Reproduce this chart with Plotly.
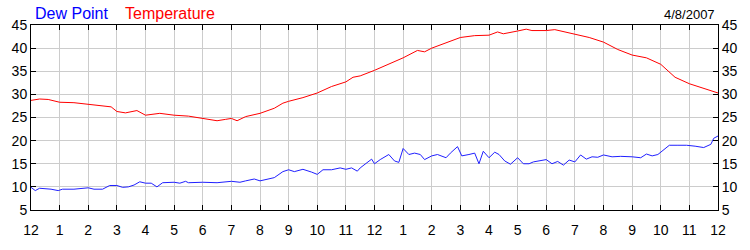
import plotly.graph_objects as go

# Time in hours after midnight
temp_hours = [0, 0.3, 0.6, 1, 1.5, 2, 2.5, 2.8, 3, 3.3, 3.7, 4, 4.5, 5, 5.5, 6, 6.5, 6.8, 7, 7.2, 7.5,
              8, 8.5, 8.8, 9, 9.5, 10, 10.5, 11, 11.25, 11.5, 12, 12.5, 13, 13.5, 13.75, 14, 14.5, 15, 15.5,
              16, 16.3, 16.5, 17, 17.3, 17.5, 18, 18.3, 18.5, 19, 19.5, 20, 20.5, 21, 21.5, 22, 22.5, 23, 23.5, 24]
temperature = [28.7, 29.0, 28.9, 28.3, 28.2, 27.9, 27.5, 27.3, 26.3, 26.0, 26.5, 25.5, 25.9, 25.5, 25.3, 24.8, 24.3, 24.6, 24.8, 24.3, 25.2,
               25.9, 27.0, 28.1, 28.5, 29.3, 30.3, 31.7, 32.7, 33.7, 34.0, 35.2, 36.5, 37.9, 39.5, 39.2, 40.0, 41.2, 42.3, 42.7,
               42.8, 43.5, 43.1, 43.7, 44.1, 43.8, 43.8, 44.0, 43.7, 43.0, 42.3, 41.3, 39.7, 38.5, 37.9, 36.5, 33.7, 32.3, 31.3, 30.3]

dew_hours = [0, 0.15, 0.3, 0.7, 0.95, 1.1, 1.5, 2, 2.2, 2.5, 2.75, 3, 3.2, 3.4, 3.6, 3.8, 4, 4.2, 4.4, 4.6, 5, 5.2, 5.4, 5.5,
             6, 6.5, 7, 7.3, 7.5, 7.8, 8, 8.5, 8.8, 9, 9.2, 9.5, 9.8, 10, 10.2, 10.5, 10.8, 11, 11.2, 11.4, 11.5, 11.7, 11.9,
             12, 12.2, 12.5, 12.7, 12.85, 13, 13.2, 13.4, 13.6, 13.75, 14, 14.2, 14.5, 14.65, 14.9, 15.05, 15.3, 15.5, 15.65,
             15.8, 16, 16.2, 16.35, 16.55, 16.75, 17, 17.2, 17.4, 17.55, 17.8, 18, 18.2, 18.4, 18.6, 18.8, 19, 19.2, 19.4,
             19.6, 19.8, 20, 20.3, 20.6, 21, 21.3, 21.5, 21.7, 21.9, 22.1, 22.3, 22.6, 22.9, 23.2, 23.5, 23.75, 23.85, 24]
dew_point = [9.9, 9.2, 9.7, 9.5, 9.2, 9.5, 9.5, 9.8, 9.5, 9.5, 10.3, 10.3, 9.9, 10.0, 10.4, 11.1, 10.8, 10.8, 10.0, 10.9, 11.0, 10.8, 11.2, 10.9,
             11.0, 10.9, 11.2, 11.0, 11.3, 11.7, 11.3, 12.0, 13.3, 13.7, 13.3, 13.8, 13.2, 12.7, 13.7, 13.7, 14.1, 13.8, 14.1, 13.4, 14.1, 15.0, 16.0,
             15.0, 15.9, 17.0, 15.6, 15.3, 18.3, 17.0, 17.3, 17.0, 15.9, 16.7, 17.0, 16.3, 17.3, 18.7, 16.7, 17.0, 17.3, 15.0,
             17.7, 16.3, 17.5, 17.0, 15.6, 14.9, 16.3, 15.0, 15.0, 15.4, 15.6, 15.9, 15.0, 15.5, 14.7, 15.8, 15.4, 16.9, 16.0,
             16.5, 16.4, 16.9, 16.5, 16.6, 16.5, 16.3, 17.1, 16.7, 17.0, 18.0, 19.0, 19.0, 19.0, 18.8, 18.5, 19.2, 20.5, 21.0]

tick_vals = list(range(0, 25))
tick_text = ["12", "1", "2", "3", "4", "5", "6", "7", "8", "9", "10", "11",
             "12", "1", "2", "3", "4", "5", "6", "7", "8", "9", "10", "11", "12"]
y_ticks = [5, 10, 15, 20, 25, 30, 35, 40, 45]

FONT = "Liberation Sans, Arial, sans-serif"

fig = go.Figure()
fig.add_trace(go.Scatter(x=dew_hours, y=dew_point, mode="lines", name="Dew Point",
                         line=dict(color="#2020ff", width=1)))
fig.add_trace(go.Scatter(x=temp_hours, y=temperature, mode="lines", name="Temperature",
                         line=dict(color="#ff0000", width=1)))
# invisible trace for right axis
fig.add_trace(go.Scatter(x=[0], y=[5], yaxis="y2", mode="markers",
                         marker=dict(opacity=0), showlegend=False, hoverinfo="skip"))

fig.update_layout(
    width=750, height=250,
    margin=dict(l=31, r=30, t=25, b=25),
    paper_bgcolor="white", plot_bgcolor="white",
    showlegend=False,
    font=dict(family=FONT, size=14, color="black"),
    xaxis=dict(range=[0, 24], tickmode="array", tickvals=tick_vals, ticktext=tick_text,
               showgrid=True, gridcolor="#cccccc", gridwidth=1,
               showline=True, linecolor="black", linewidth=1, mirror="ticks",
               ticks="inside", ticklen=5, tickcolor="black", zeroline=False,
               ticklabelstandoff=7,
               tickfont=dict(family=FONT, size=14, color="black")),
    yaxis=dict(range=[5, 45], tickmode="array", tickvals=y_ticks,
               showgrid=True, gridcolor="#cccccc", gridwidth=1,
               showline=True, linecolor="black", linewidth=1, mirror=True,
               ticks="inside", ticklen=5, tickcolor="black", zeroline=False,
               tickfont=dict(family=FONT, size=14, color="black")),
    yaxis2=dict(range=[5, 45], tickmode="array", tickvals=y_ticks, overlaying="y", side="right",
                showgrid=False, showline=True, linecolor="black", linewidth=1,
                ticks="inside", ticklen=5, tickcolor="black", zeroline=False,
                tickfont=dict(family=FONT, size=14, color="black")),
)

fig.add_annotation(text="Dew Point", xref="paper", yref="paper", x=(33 - 31) / 689, y=1 + 24 / 200,
                   xanchor="left", yanchor="top", showarrow=False,
                   font=dict(family=FONT, size=16, color="#0000ff"))
fig.add_annotation(text="Temperature", xref="paper", yref="paper", x=(123 - 31) / 689, y=1 + 24 / 200,
                   xanchor="left", yanchor="top", showarrow=False,
                   font=dict(family=FONT, size=16, color="#ff0000"))
fig.add_annotation(text="4/8/2007", xref="paper", yref="paper", x=(719 - 31) / 689, y=1 + 22 / 200,
                   xanchor="right", yanchor="top", showarrow=False,
                   font=dict(family=FONT, size=13, color="black"))

fig.write_html("out.html")
